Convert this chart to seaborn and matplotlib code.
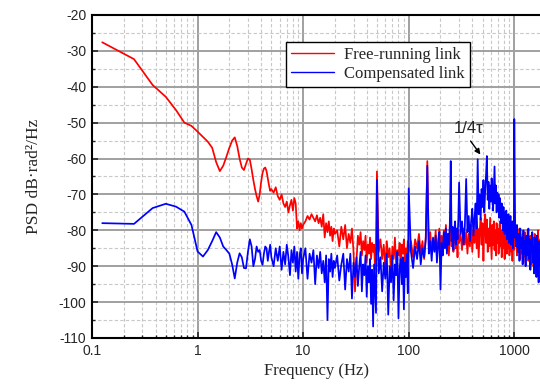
import matplotlib
matplotlib.use("Agg")
import matplotlib.pyplot as plt
import seaborn as sns
import pandas as pd
from matplotlib.ticker import FixedLocator, NullFormatter

# ---------------- data ----------------
freq = [
    0.125, 0.25, 0.375, 0.5, 0.625, 0.75, 0.875, 1.0, 1.125, 1.25, 1.375, 1.5, 1.625, 1.75, 1.875, 2.0,
    2.125, 2.25, 2.375, 2.5, 2.625, 2.75, 2.875, 3.0, 3.125, 3.25, 3.375, 3.5, 3.625, 3.75, 3.875, 4.0,
    4.125, 4.25, 4.375, 4.5, 4.625, 4.75, 4.875, 5.0,
    5.25, 5.5, 5.75, 6.0, 6.25, 6.5, 6.75, 7.0, 7.25, 7.5, 7.75, 8.0, 8.25, 8.5, 8.75, 9.0, 9.25, 9.5, 9.75, 10.0,
    10.5, 11, 11.5, 12, 12.5, 13, 13.5, 14, 14.5, 15, 15.5, 16, 16.5, 17, 17.5, 18, 18.5, 19, 19.5, 20,
    21, 22, 23, 24, 25, 26, 27, 28, 29, 30, 31, 32, 33, 34, 35, 36, 37, 38, 39, 40, 41, 42, 43, 44, 45,
    46, 47, 48, 49, 50,
    52, 54, 56, 58, 60, 62, 64, 66, 68, 70, 72, 74, 76, 78, 80, 82, 84, 86, 88, 90, 92, 94, 96, 98, 100,
    105, 110, 115, 120, 125, 130, 135, 140, 145, 150, 155, 160, 165, 170, 175, 180, 185, 190, 195, 200,
    205, 210, 215, 220, 225, 230, 235, 240, 245, 250, 255, 260, 265, 270, 275, 280, 285, 290, 295, 300,
    310, 320, 330, 340, 350, 360, 370, 380, 390, 400, 410, 420, 430, 440, 450, 460, 470, 480, 490, 500,
    510, 520, 530, 540, 550, 560, 570, 580, 590, 600, 610, 620, 630, 640, 650, 660, 670, 680, 690, 700,
    710, 720, 730, 740, 750, 760, 770, 780, 790, 800, 810, 820, 830, 840, 850, 860, 870, 880, 890, 900,
    910, 920, 930, 940, 950, 960, 970, 980, 990, 1000,
    1020, 1040, 1060, 1080, 1100, 1120, 1140, 1160, 1180, 1200, 1220, 1240, 1260, 1280, 1300, 1320,
    1340, 1360, 1380, 1400, 1420, 1440, 1460, 1480, 1500, 1520, 1540, 1560, 1580, 1600, 1620, 1640,
    1660, 1680, 1700, 1720, 1740, 1760,
]

free_running = [
    -27.6, -32.3, -39.5, -42.8, -46.5, -50.0, -50.9, -52.5, -54.0, -55.3, -57.0, -61.0, -63.5, -62.0, -59.5, -57.0,
    -55.0, -54.1, -56.5, -60.0, -62.5, -63.2, -61.5, -60.0, -60.3, -63.0, -66.0, -68.5, -70.5, -72.0, -70.0, -66.5,
    -64.0, -62.8, -62.5, -63.5, -65.5, -67.5, -69.0, -68.5,
    -69.5, -68.0, -70.5, -71.5, -70.0, -72.5, -73.5, -72.0, -75.0, -73.0, -71.5, -74.5, -71.0, -72.5, -79.5, -77.5,
    -80.0, -78.0, -79.5, -78.5,
    -77.5, -76.0, -77.0, -75.5, -76.5, -77.5, -75.8, -78.0, -76.5, -79.0, -75.5, -82.0, -78.0, -80.5, -77.5, -81.5,
    -79.0, -83.0, -79.5, -81.0,
    -80.0, -84.5, -79.0, -82.5, -78.5, -85.0, -81.0, -83.5, -79.5, -86.0, -97.0, -88.5, -81.5, -84.0, -80.5, -87.0,
    -83.0, -85.5, -81.5, -89.0, -84.0, -86.5, -82.0, -88.0, -83.5, -86.0, -84.0, -91.0, -85.0, -63.6,
    -86.0, -82.5, -88.0, -84.0, -90.5, -83.0, -87.5, -85.0, -92.0, -84.5, -88.0, -82.0, -89.5, -85.5, -87.0, -83.5,
    -91.0, -84.0, -86.5, -82.5, -89.0, -85.0, -87.5, -83.0, -86.0,
    -83.0, -87.5, -82.5, -85.0, -81.0, -86.5, -83.0, -88.0, -82.0, -60.7, -84.5, -80.5, -86.0, -82.5, -85.5, -80.0,
    -87.0, -83.0, -79.5, -85.0, -81.5, -86.5, -80.0, -84.0, -78.5, -85.5, -81.0, -87.0, -82.0, -79.0, -84.5, -80.5,
    -86.0, -81.5, -78.5, -85.0, -82.0, -87.5, -80.0, -83.5,
    -81.0, -85.5, -79.5, -84.0, -80.5, -86.5, -81.0, -84.5, -78.5, -86.0, -80.0, -83.5, -77.5, -85.0, -79.5, -87.5,
    -80.5, -76.5, -84.0, -78.0, -88.5, -79.0, -75.5, -83.5, -77.0, -86.0, -79.5, -84.5, -76.5, -82.0, -88.0, -78.5,
    -84.0, -77.5, -85.5, -80.0, -87.0, -78.0, -83.5, -79.5, -86.5, -81.0, -77.5, -84.5, -80.0, -87.5, -82.0, -78.5,
    -85.0, -81.5, -88.0, -80.5, -84.0, -79.0, -86.5, -82.0, -78.0, -85.0, -80.5, -87.0, -81.0, -84.5, -79.5, -86.0,
    -81.5, -88.5, -82.0, -79.0, -85.5, -82.0,
    -84.0, -80.5, -87.0, -82.0, -85.5, -79.5, -88.0, -83.0, -86.5, -81.0, -89.0, -84.0, -80.5, -87.5, -82.5, -86.0,
    -80.0, -88.5, -83.5, -85.0, -81.5, -89.5, -84.0, -87.0, -82.0, -90.0, -85.0, -81.0, -88.0, -84.5, -91.0, -83.0,
    -87.5, -80.0, -89.0, -84.0, -86.5, -82.5,
]

compensated = [
    -78.0, -78.2, -73.8, -72.6, -73.4, -74.8, -78.5, -85.9, -87.3, -85.5, -83.0, -80.5, -82.0, -84.5, -85.5, -86.5,
    -89.5, -93.4, -89.0, -86.4, -87.5, -90.5, -90.6, -86.0, -82.5, -84.5, -90.0, -88.0, -84.5, -86.0, -85.5, -88.5,
    -89.6, -86.5, -84.5, -85.0, -88.5, -86.0, -84.0, -87.5,
    -90.0, -85.0, -88.5, -84.5, -91.0, -86.0, -89.5, -84.0, -87.5, -92.5, -85.5, -89.0, -84.5, -91.5, -86.0, -93.5,
    -87.0, -85.0, -92.0, -88.0,
    -85.0, -93.5, -86.5, -89.0, -85.5, -95.0, -87.0, -90.5, -86.0, -92.0, -88.5, -94.5, -87.0, -105.0, -88.0, -91.5,
    -86.5, -93.0, -88.5, -90.5,
    -87.0, -94.0, -89.5, -86.5, -96.5, -88.0, -91.5, -86.5, -99.0, -89.0, -93.0, -87.5, -95.5, -90.0, -86.0, -97.0,
    -89.5, -92.5, -87.0, -98.5, -90.0, -94.5, -88.0, -100.5, -91.0, -106.8, -89.5, -96.0, -103.0, -66.0,
    -92.0, -87.5, -97.0, -89.0, -93.5, -86.5, -103.5, -90.0, -94.5, -87.0, -99.5, -89.5, -92.5, -86.0, -104.5, -90.5,
    -88.0, -95.0, -87.5, -102.0, -89.0, -93.0, -86.5, -97.5, -68.3,
    -86.0, -90.5, -84.5, -88.0, -83.0, -89.5, -85.0, -87.5, -82.5, -62.0, -86.5, -83.0, -88.5, -82.0, -86.0, -81.5,
    -89.0, -84.0, -80.5, -96.5, -83.5, -87.0, -80.5, -85.0, -79.5, -86.5, -81.0, -84.0, -78.5, -60.7, -83.0, -79.0,
    -85.5, -80.0, -77.5, -84.0, -79.5, -82.5, -77.0, -66.7,
    -81.0, -77.5, -84.0, -79.0, -65.7, -80.5, -76.0, -83.0, -77.5, -74.0, -81.5, -76.5, -72.5, -79.5, -60.2, -75.5,
    -70.0, -77.0, -68.5, -73.5, -66.0, -75.0, -69.0, -64.5, -59.3, -71.5, -66.5, -74.0, -67.5, -72.0, -65.5, -70.5,
    -74.5, -68.0, -62.2, -72.5, -67.5, -75.0, -69.5, -73.0, -70.0, -76.5, -71.0, -74.5, -78.0, -72.5, -76.0, -80.0,
    -73.5, -77.5, -81.0, -75.0, -79.0, -74.5, -82.5, -76.5, -79.5, -75.5, -83.5, -77.0, -80.5, -76.0, -84.0, -78.0,
    -81.5, -77.5, -85.0, -79.0, -82.0, -49.0,
    -80.5, -84.5, -78.5, -86.0, -81.0, -88.5, -79.5, -85.0, -82.0, -89.5, -80.0, -86.5, -83.0, -90.0, -81.5, -87.0,
    -84.0, -79.5, -88.0, -82.5, -91.0, -83.5, -86.0, -80.5, -89.0, -84.5, -92.0, -82.0, -87.5, -85.0, -93.0, -81.5,
    -88.0, -84.5, -94.5, -83.0, -89.5, -85.5,
]

series_names = ["Free-running link", "Compensated link"]
series_colors = ["#ff0000", "#0000ff"]
y_ticks = [-110, -100, -90, -80, -70, -60, -50, -40, -30, -20]
x_ticks = [0.1, 1, 10, 100, 1000]
x_ticklabels = ["0.1", "1", "10", "100", "1000"]

df = pd.DataFrame({
    "freq": freq * 2,
    "psd": free_running + compensated,
    "series": [series_names[0]] * len(freq) + [series_names[1]] * len(freq),
})

# ---------------- plot ----------------
sns.set_style("white")
plt.rcParams["font.family"] = ["Liberation Sans", "DejaVu Sans"]
plt.rcParams["axes.unicode_minus"] = False

fig = plt.figure(figsize=(5.4, 3.85), dpi=100)
ax = fig.add_axes([92 / 540, 1 - 338 / 385, 1 - 92 / 540, (338 - 15) / 385])
ax.set_xscale("log")

sns.lineplot(data=df, x="freq", y="psd", hue="series", hue_order=series_names,
             palette=series_colors, estimator=None, sort=False, linewidth=1.25, ax=ax)

ax.set_xlim(0.1, 1752)
ax.set_ylim(-110, -20)

ax.xaxis.set_major_locator(FixedLocator(x_ticks))
ax.set_xticklabels(x_ticklabels)
minor_x = [m * 10.0 ** e for e in range(-1, 4) for m in range(2, 10)]
ax.xaxis.set_minor_locator(FixedLocator(minor_x))
ax.xaxis.set_minor_formatter(NullFormatter())
ax.set_yticks(y_ticks)
ax.yaxis.set_minor_locator(FixedLocator([v + 5 for v in y_ticks[:-1]]))

ax.grid(which="major", color="#a0a0a0", linewidth=1.4, linestyle="-")
ax.grid(which="minor", color="#c8c8c8", linewidth=0.8, linestyle=(0, (3, 2)))
ax.set_axisbelow(True)

ax.tick_params(which="major", direction="in", length=4, width=1.2, labelsize=10,
               top=False, right=False, bottom=True, left=True, pad=4)
ax.tick_params(which="minor", direction="in", length=2.5, width=1.0,
               top=False, right=False, bottom=True, left=True)
for side in ["left", "bottom", "top"]:
    ax.spines[side].set_linewidth(1.5)
    ax.spines[side].set_color("black")
ax.spines["right"].set_visible(False)

serif = ["Liberation Serif", "DejaVu Serif"]
ax.set_xlabel("Frequency (Hz)", family=serif, fontsize=12, labelpad=4)
ax.set_ylabel("PSD dB\u00b7rad\u00b2/Hz", family=serif, fontsize=12.5, labelpad=12)

leg = ax.legend(loc="upper left", bbox_to_anchor=((286 - 92) / 448, (338 - 41.7) / 323),
                frameon=True, fancybox=False, edgecolor="black", framealpha=1,
                prop={"family": serif, "size": 12}, handlelength=2.6,
                borderpad=0.3, labelspacing=0.2, handletextpad=0.6, borderaxespad=0)
leg.get_frame().set_linewidth(1.0)
for line in leg.get_lines():
    line.set_linewidth(1.0)

ax.text(368, -51.5, "1/4\u03c4", fontsize=12, ha="center", va="center")
ax.annotate("", xy=(495, -59.5), xytext=(372, -54.5),
            arrowprops=dict(arrowstyle="-|>", color="black", lw=1.0, mutation_scale=8))

fig.savefig("out.png", dpi=100)
